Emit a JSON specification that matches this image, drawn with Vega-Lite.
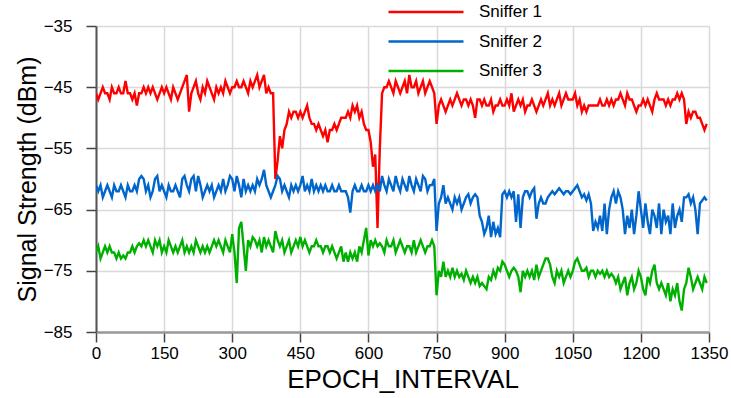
{
"$schema": "https://vega.github.io/schema/vega-lite/v6.json",
"width": 613, "height": 306,
"autosize": {"type": "none"},
"padding": {"left": 96, "top": 26, "right": 22, "bottom": 66},
"background": "white",
"config": {"font": "Liberation Sans", "view": {"stroke": null}},
"data": {"values": [
{"e":0,"s1":-46,"s2":-61,"s3":-72},{"e":5,"s1":-47,"s2":-62,"s3":-71},{"e":10,"s1":-46,"s2":-61,"s3":-73},{"e":15,"s1":-45,"s2":-63,"s3":-72},{"e":20,"s1":-46,"s2":-62,"s3":-71},{"e":25,"s1":-46,"s2":-61,"s3":-72},{"e":30,"s1":-47,"s2":-62,"s3":-71},{"e":35,"s1":-45,"s2":-63,"s3":-72},{"e":40,"s1":-46,"s2":-61,"s3":-72},{"e":45,"s1":-46,"s2":-62,"s3":-73},
{"e":50,"s1":-45,"s2":-62,"s3":-72},{"e":55,"s1":-46,"s2":-61,"s3":-73},{"e":60,"s1":-46,"s2":-62,"s3":-72.5},{"e":65,"s1":-44,"s2":-63,"s3":-73},{"e":70,"s1":-46,"s2":-61,"s3":-72},{"e":75,"s1":-46,"s2":-62,"s3":-72},{"e":80,"s1":-47,"s2":-62,"s3":-71},{"e":85,"s1":-46,"s2":-61,"s3":-72},{"e":90,"s1":-48,"s2":-62,"s3":-71},{"e":95,"s1":-46,"s2":-60,"s3":-70.5},
{"e":100,"s1":-46,"s2":-59.5,"s3":-71},{"e":105,"s1":-45,"s2":-60,"s3":-70},{"e":110,"s1":-46,"s2":-62,"s3":-71},{"e":115,"s1":-45,"s2":-61,"s3":-70},{"e":120,"s1":-46,"s2":-63,"s3":-71},{"e":125,"s1":-45,"s2":-62,"s3":-72},{"e":130,"s1":-46,"s2":-60,"s3":-70},{"e":135,"s1":-47,"s2":-59.5,"s3":-71},{"e":140,"s1":-46,"s2":-62,"s3":-70},{"e":145,"s1":-45,"s2":-61,"s3":-72},
{"e":150,"s1":-46,"s2":-62,"s3":-71},{"e":155,"s1":-45,"s2":-63,"s3":-72},{"e":160,"s1":-46,"s2":-61,"s3":-70},{"e":165,"s1":-47,"s2":-62,"s3":-71},{"e":170,"s1":-45,"s2":-62,"s3":-72},{"e":175,"s1":-46,"s2":-61,"s3":-71},{"e":180,"s1":-47,"s2":-62,"s3":-72},{"e":185,"s1":-46,"s2":-63,"s3":-71},{"e":190,"s1":-45,"s2":-60,"s3":-70},{"e":195,"s1":-44,"s2":-59.5,"s3":-72},
{"e":200,"s1":-43,"s2":-61,"s3":-71},{"e":205,"s1":-49,"s2":-62,"s3":-72},{"e":210,"s1":-46,"s2":-60,"s3":-71},{"e":215,"s1":-45,"s2":-59.5,"s3":-72},{"e":220,"s1":-44,"s2":-62,"s3":-70},{"e":225,"s1":-46,"s2":-59.5,"s3":-71},{"e":230,"s1":-47,"s2":-61,"s3":-72},{"e":235,"s1":-45,"s2":-63,"s3":-71},{"e":240,"s1":-46,"s2":-62,"s3":-72},{"e":245,"s1":-44,"s2":-61,"s3":-71},
{"e":250,"s1":-45,"s2":-62,"s3":-72},{"e":255,"s1":-46,"s2":-61,"s3":-71},{"e":260,"s1":-47,"s2":-63,"s3":-70},{"e":265,"s1":-45,"s2":-62,"s3":-71},{"e":270,"s1":-46,"s2":-61,"s3":-70},{"e":275,"s1":-45,"s2":-62,"s3":-71},{"e":280,"s1":-46,"s2":-60,"s3":-72},{"e":285,"s1":-44,"s2":-62,"s3":-70},{"e":290,"s1":-45,"s2":-61,"s3":-71},{"e":295,"s1":-46,"s2":-59.5,"s3":-72},
{"e":300,"s1":-45,"s2":-60,"s3":-69},{"e":305,"s1":-45,"s2":-62,"s3":-72},{"e":310,"s1":-44,"s2":-59.5,"s3":-77},{"e":315,"s1":-45,"s2":-61,"s3":-68},{"e":320,"s1":-45,"s2":-63,"s3":-67},{"e":325,"s1":-44,"s2":-60,"s3":-71},{"e":330,"s1":-45,"s2":-62,"s3":-75},{"e":335,"s1":-46,"s2":-61,"s3":-70},{"e":340,"s1":-44,"s2":-62,"s3":-71},{"e":345,"s1":-45,"s2":-61,"s3":-69.5},
{"e":350,"s1":-44,"s2":-62,"s3":-70},{"e":355,"s1":-43,"s2":-60,"s3":-71},{"e":360,"s1":-45,"s2":-61,"s3":-70},{"e":365,"s1":-44,"s2":-60,"s3":-72},{"e":370,"s1":-43,"s2":-58.5,"s3":-69.5},{"e":375,"s1":-46,"s2":-61,"s3":-71},{"e":380,"s1":-45,"s2":-62,"s3":-70},{"e":385,"s1":-46,"s2":-63,"s3":-71},{"e":390,"s1":-46,"s2":-62,"s3":-72},{"e":395,"s1":-60,"s2":-61,"s3":-68.5},
{"e":400,"s1":-57,"s2":-59.5,"s3":-70},{"e":405,"s1":-53,"s2":-60,"s3":-71},{"e":410,"s1":-55,"s2":-62,"s3":-70},{"e":415,"s1":-52,"s2":-61,"s3":-72},{"e":420,"s1":-51,"s2":-62,"s3":-71},{"e":425,"s1":-49,"s2":-63,"s3":-70},{"e":430,"s1":-50,"s2":-61,"s3":-72},{"e":435,"s1":-49,"s2":-62,"s3":-71},{"e":440,"s1":-49,"s2":-61,"s3":-70},{"e":445,"s1":-50,"s2":-62,"s3":-71},
{"e":450,"s1":-49,"s2":-61,"s3":-69.5},{"e":455,"s1":-50,"s2":-59.5,"s3":-71},{"e":460,"s1":-49,"s2":-62,"s3":-70},{"e":465,"s1":-48,"s2":-61,"s3":-71},{"e":470,"s1":-50,"s2":-62,"s3":-72},{"e":475,"s1":-51,"s2":-60,"s3":-71},{"e":480,"s1":-51,"s2":-62,"s3":-71},{"e":485,"s1":-52,"s2":-61,"s3":-70},{"e":490,"s1":-51,"s2":-62,"s3":-71},{"e":495,"s1":-52,"s2":-61,"s3":-71},
{"e":500,"s1":-53,"s2":-62,"s3":-72},{"e":505,"s1":-52,"s2":-61,"s3":-71},{"e":510,"s1":-54,"s2":-62,"s3":-71},{"e":515,"s1":-52,"s2":-62,"s3":-72},{"e":520,"s1":-52,"s2":-61,"s3":-71},{"e":525,"s1":-51,"s2":-62,"s3":-72},{"e":530,"s1":-52,"s2":-62,"s3":-73},{"e":535,"s1":-51,"s2":-61,"s3":-72},{"e":540,"s1":-50,"s2":-62,"s3":-71},{"e":545,"s1":-50,"s2":-62,"s3":-73.5},
{"e":550,"s1":-50,"s2":-62,"s3":-72},{"e":555,"s1":-49,"s2":-63,"s3":-73.5},{"e":560,"s1":-50,"s2":-65.5,"s3":-72},{"e":565,"s1":-48,"s2":-62,"s3":-73},{"e":570,"s1":-49,"s2":-61,"s3":-72},{"e":575,"s1":-48,"s2":-62,"s3":-73.5},{"e":580,"s1":-50,"s2":-62,"s3":-71},{"e":585,"s1":-49,"s2":-61,"s3":-72},{"e":590,"s1":-51,"s2":-62,"s3":-70},{"e":595,"s1":-52,"s2":-62,"s3":-68},
{"e":600,"s1":-52,"s2":-61,"s3":-72.5},{"e":605,"s1":-54,"s2":-62,"s3":-70},{"e":610,"s1":-58,"s2":-61,"s3":-71},{"e":615,"s1":-56,"s2":-62,"s3":-70},{"e":620,"s1":-68,"s2":-61,"s3":-71},{"e":625,"s1":-55,"s2":-62,"s3":-70.5},{"e":630,"s1":-46,"s2":-59.5,"s3":-71},{"e":635,"s1":-45,"s2":-61,"s3":-72},{"e":640,"s1":-45,"s2":-62,"s3":-70},{"e":645,"s1":-44,"s2":-60,"s3":-71},
{"e":650,"s1":-45,"s2":-61,"s3":-71},{"e":655,"s1":-46,"s2":-62,"s3":-70},{"e":660,"s1":-44,"s2":-59.5,"s3":-72},{"e":665,"s1":-45,"s2":-61,"s3":-71},{"e":670,"s1":-46,"s2":-62,"s3":-70},{"e":675,"s1":-45,"s2":-60,"s3":-71},{"e":680,"s1":-44,"s2":-61,"s3":-72},{"e":685,"s1":-46,"s2":-62,"s3":-71},{"e":690,"s1":-43,"s2":-59.5,"s3":-71},{"e":695,"s1":-45,"s2":-61,"s3":-72},
{"e":700,"s1":-45,"s2":-62,"s3":-70},{"e":705,"s1":-44,"s2":-60,"s3":-72},{"e":710,"s1":-46,"s2":-61,"s3":-71},{"e":715,"s1":-45,"s2":-62,"s3":-70},{"e":720,"s1":-44,"s2":-59.5,"s3":-71},{"e":725,"s1":-46,"s2":-60,"s3":-72},{"e":730,"s1":-45,"s2":-62,"s3":-71},{"e":735,"s1":-44,"s2":-61,"s3":-71},{"e":740,"s1":-45,"s2":-61,"s3":-70},{"e":745,"s1":-46,"s2":-60,"s3":-71},
{"e":750,"s1":-51,"s2":-68.5,"s3":-79},{"e":755,"s1":-48,"s2":-64,"s3":-75},{"e":760,"s1":-47,"s2":-63,"s3":-76},{"e":765,"s1":-48,"s2":-61,"s3":-73.5},{"e":770,"s1":-49,"s2":-64,"s3":-76},{"e":775,"s1":-48,"s2":-63,"s3":-75},{"e":780,"s1":-47,"s2":-64,"s3":-76},{"e":785,"s1":-48,"s2":-65,"s3":-74.5},{"e":790,"s1":-47,"s2":-63,"s3":-76},{"e":795,"s1":-46,"s2":-64,"s3":-75},
{"e":800,"s1":-47,"s2":-63,"s3":-76},{"e":805,"s1":-48,"s2":-65,"s3":-75.5},{"e":810,"s1":-47,"s2":-64,"s3":-76.5},{"e":815,"s1":-47,"s2":-63,"s3":-75},{"e":820,"s1":-48,"s2":-62.5,"s3":-76},{"e":825,"s1":-47,"s2":-64,"s3":-77},{"e":830,"s1":-48,"s2":-63,"s3":-76},{"e":835,"s1":-50,"s2":-62.5,"s3":-77},{"e":840,"s1":-47,"s2":-63,"s3":-76},{"e":845,"s1":-47,"s2":-66,"s3":-77.5},
{"e":850,"s1":-48,"s2":-67,"s3":-77},{"e":855,"s1":-47,"s2":-69,"s3":-77.5},{"e":860,"s1":-48,"s2":-68,"s3":-78},{"e":865,"s1":-48,"s2":-66,"s3":-76},{"e":870,"s1":-47,"s2":-69.5,"s3":-76.5},{"e":875,"s1":-49,"s2":-67,"s3":-75},{"e":880,"s1":-48,"s2":-69,"s3":-76},{"e":885,"s1":-48,"s2":-68,"s3":-74.5},{"e":890,"s1":-47,"s2":-69.5,"s3":-75},{"e":895,"s1":-48,"s2":-62.5,"s3":-73.5},
{"e":900,"s1":-48,"s2":-62,"s3":-74},{"e":905,"s1":-47,"s2":-63,"s3":-75},{"e":910,"s1":-48,"s2":-62,"s3":-76},{"e":915,"s1":-46,"s2":-63,"s3":-75},{"e":920,"s1":-49,"s2":-62,"s3":-74.5},{"e":925,"s1":-48,"s2":-67,"s3":-75},{"e":930,"s1":-47,"s2":-62.5,"s3":-76},{"e":935,"s1":-48,"s2":-68,"s3":-78.5},{"e":940,"s1":-47,"s2":-63,"s3":-75},{"e":945,"s1":-49,"s2":-62,"s3":-76},
{"e":950,"s1":-48,"s2":-62,"s3":-75},{"e":955,"s1":-48,"s2":-63,"s3":-76},{"e":960,"s1":-47,"s2":-62,"s3":-75},{"e":965,"s1":-48,"s2":-61.5,"s3":-76.5},{"e":970,"s1":-49,"s2":-66.5,"s3":-74},{"e":975,"s1":-48,"s2":-64,"s3":-76},{"e":980,"s1":-47,"s2":-63,"s3":-75},{"e":985,"s1":-48,"s2":-64,"s3":-74},{"e":990,"s1":-47,"s2":-64,"s3":-73},{"e":995,"s1":-46,"s2":-63,"s3":-73},
{"e":1000,"s1":-48,"s2":-62.5,"s3":-74},{"e":1005,"s1":-47,"s2":-62,"s3":-76},{"e":1010,"s1":-48,"s2":-62.5,"s3":-77},{"e":1015,"s1":-47,"s2":-62,"s3":-75},{"e":1020,"s1":-46,"s2":-61.5,"s3":-76},{"e":1025,"s1":-48,"s2":-62,"s3":-75},{"e":1030,"s1":-47,"s2":-62.5,"s3":-77},{"e":1035,"s1":-46,"s2":-62,"s3":-76},{"e":1040,"s1":-47,"s2":-62,"s3":-75},{"e":1045,"s1":-47,"s2":-62.5,"s3":-76},
{"e":1050,"s1":-47,"s2":-62,"s3":-75},{"e":1055,"s1":-46,"s2":-61.5,"s3":-73.5},{"e":1060,"s1":-48,"s2":-61,"s3":-73},{"e":1065,"s1":-47,"s2":-62,"s3":-74},{"e":1070,"s1":-49,"s2":-63,"s3":-75},{"e":1075,"s1":-48,"s2":-62.5,"s3":-75},{"e":1080,"s1":-49,"s2":-63.5,"s3":-74.5},{"e":1085,"s1":-48,"s2":-62.5,"s3":-76},{"e":1090,"s1":-48,"s2":-64,"s3":-75},{"e":1095,"s1":-48,"s2":-68.5,"s3":-75},
{"e":1100,"s1":-48,"s2":-67,"s3":-76},{"e":1105,"s1":-48,"s2":-68,"s3":-75},{"e":1110,"s1":-47,"s2":-66,"s3":-75.5},{"e":1115,"s1":-48,"s2":-68.5,"s3":-75},{"e":1120,"s1":-48,"s2":-64,"s3":-76},{"e":1125,"s1":-47,"s2":-69,"s3":-75},{"e":1130,"s1":-48,"s2":-65,"s3":-76},{"e":1135,"s1":-47,"s2":-63,"s3":-75.5},{"e":1140,"s1":-48,"s2":-62,"s3":-76},{"e":1145,"s1":-47,"s2":-64,"s3":-77},
{"e":1150,"s1":-47,"s2":-62,"s3":-76},{"e":1155,"s1":-46,"s2":-63,"s3":-78},{"e":1160,"s1":-47,"s2":-65,"s3":-77},{"e":1165,"s1":-48,"s2":-69,"s3":-76},{"e":1170,"s1":-46,"s2":-66,"s3":-79},{"e":1175,"s1":-47,"s2":-68,"s3":-77},{"e":1180,"s1":-47,"s2":-65,"s3":-76},{"e":1185,"s1":-48,"s2":-69,"s3":-78},{"e":1190,"s1":-49,"s2":-66,"s3":-77},{"e":1195,"s1":-48,"s2":-62,"s3":-75},
{"e":1200,"s1":-48,"s2":-65,"s3":-76},{"e":1205,"s1":-47,"s2":-68,"s3":-78},{"e":1210,"s1":-48,"s2":-64,"s3":-79},{"e":1215,"s1":-47,"s2":-67,"s3":-76},{"e":1220,"s1":-48,"s2":-69,"s3":-77},{"e":1225,"s1":-49,"s2":-65,"s3":-75},{"e":1230,"s1":-47,"s2":-66,"s3":-74},{"e":1235,"s1":-46,"s2":-68,"s3":-77},{"e":1240,"s1":-47,"s2":-64,"s3":-78},{"e":1245,"s1":-47,"s2":-69,"s3":-77},
{"e":1250,"s1":-47,"s2":-65,"s3":-78},{"e":1255,"s1":-48,"s2":-67,"s3":-79},{"e":1260,"s1":-47,"s2":-66,"s3":-77},{"e":1265,"s1":-48,"s2":-69,"s3":-80},{"e":1270,"s1":-47,"s2":-64,"s3":-78},{"e":1275,"s1":-47,"s2":-68,"s3":-79},{"e":1280,"s1":-46,"s2":-66,"s3":-77},{"e":1285,"s1":-47,"s2":-65,"s3":-80},{"e":1290,"s1":-46,"s2":-67,"s3":-81.5},{"e":1295,"s1":-47,"s2":-63,"s3":-78},
{"e":1300,"s1":-51,"s2":-63,"s3":-77},{"e":1305,"s1":-49,"s2":-62.5,"s3":-74.5},{"e":1310,"s1":-50,"s2":-64,"s3":-76},{"e":1315,"s1":-49,"s2":-63,"s3":-78},{"e":1320,"s1":-49,"s2":-65,"s3":-77},{"e":1325,"s1":-50,"s2":-69,"s3":-76},{"e":1330,"s1":-50,"s2":-64,"s3":-77},{"e":1335,"s1":-51,"s2":-63.5,"s3":-78},{"e":1340,"s1":-52,"s2":-63,"s3":-76},{"e":1345,"s1":-51,"s2":-63.5,"s3":-77}
]},
"transform": [{"fold": ["s1", "s2", "s3"], "as": ["series", "value"]}],
"mark": {"type": "line", "strokeWidth": 2.4, "clip": true},
"encoding": {
"x": {"field": "e", "type": "quantitative",
"scale": {"domain": [0, 1350], "nice": false, "zero": false},
"axis": {"values": [0,150,300,450,600,750,900,1050,1200,1350], "format": "d", "title": "EPOCH_INTERVAL", "titleFontSize": 26, "titleFontWeight": "normal", "titleColor": "black", "titlePadding": 5,
"labelFontSize": 17, "labelColor": "black", "labelPadding": 3, "labelFlush": false, "tickSize": 10, "tickColor": "#444", "tickWidth": 1.5,
"domainColor": "#999", "domainWidth": 2.5, "gridColor": "#d9d9d9", "gridWidth": 1.5}},
"y": {"field": "value", "type": "quantitative",
"scale": {"domain": [-85, -35], "nice": false, "zero": false},
"axis": {"values": [-85,-75,-65,-55,-45,-35], "format": "d", "title": "Signal Strength (dBm)", "titleFontSize": 25, "titleFontWeight": "normal", "titleColor": "black", "titlePadding": 3,
"labelFontSize": 17, "labelColor": "black", "labelPadding": 14, "labelFlush": false, "tickSize": 10, "tickColor": "#444", "tickWidth": 1.5,
"domainColor": "#555", "domainWidth": 2, "gridColor": "#d9d9d9", "gridWidth": 1.5}},
"color": {"field": "series", "type": "nominal",
"scale": {"domain": ["s1", "s2", "s3"], "range": ["#ff0000", "#0066cc", "#00b000"]},
"legend": {"orient": "none", "legendX": 291, "legendY": -24, "title": null, "symbolType": "stroke", "symbolSize": 5625, "symbolStrokeWidth": 2.5,
"labelFontSize": 17, "labelColor": "black", "labelOffset": 14, "clipHeight": 20, "rowPadding": 9.5,
"labelExpr": "'Sniffer ' + substring(datum.label, 1)"}}
}
}
